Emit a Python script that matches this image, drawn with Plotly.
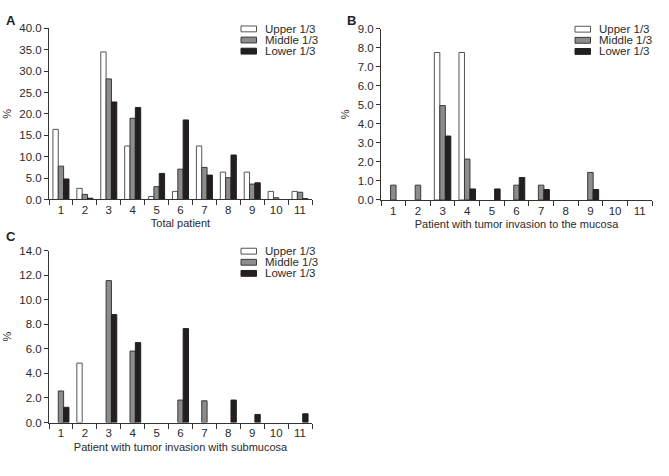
import plotly.graph_objects as go

categories = [str(i) for i in range(1, 12)]
series_names = ["Upper 1/3", "Middle 1/3", "Lower 1/3"]

# Panel A: Total patient (None = no bar)
a_upper = [16.4, 2.6, 34.5, 12.5, 0.7, 1.9, 12.5, 6.4, 6.4, 1.9, 1.9]
a_middle = [7.8, 1.2, 28.2, 19.0, 3.0, 7.1, 7.5, 5.1, 3.6, 0.4, 1.7]
a_lower = [4.8, 0.3, 22.8, 21.5, 6.1, 18.6, 5.7, 10.4, 3.9, None, 0.2]

# Panel B: tumor invasion to the mucosa
b_upper = [None, None, 7.75, 7.75, None, None, None, None, None, None, None]
b_middle = [0.78, 0.78, 4.96, 2.15, None, 0.78, 0.78, None, 1.45, None, None]
b_lower = [None, None, 3.36, 0.58, 0.58, 1.18, 0.55, None, 0.55, None, None]

# Panel C: tumor invasion with submucosa
c_upper = [None, 4.84, None, None, None, None, None, None, None, None, None]
c_middle = [2.57, None, 11.56, 5.82, None, 1.83, 1.77, None, None, None, None]
c_lower = [1.24, None, 8.79, 6.51, None, 7.65, None, 1.83, 0.66, None, 0.71]

y_a_ticks = [0, 5, 10, 15, 20, 25, 30, 35, 40]
y_b_ticks = [0, 1, 2, 3, 4, 5, 6, 7, 8, 9]
y_c_ticks = [0, 2, 4, 6, 8, 10, 12, 14]

titles = ["Total patient", "Patient with tumor invasion to the mucosa",
          "Patient with tumor invasion with submucosa"]

fills = ["#ffffff", "#8c8c8c", "#231f20"]
lines = ["#555555", "#3a3a3a", "#231f20"]

W, H = 669, 476
FONT = "Arial, Liberation Sans, sans-serif"
TXT = "#2a2a2a"

fig = go.Figure()

panels = [
    (a_upper, a_middle, a_lower, "x", "y"),
    (b_upper, b_middle, b_lower, "x2", "y2"),
    (c_upper, c_middle, c_lower, "x3", "y3"),
]
for (u, m, l, xa, ya) in panels:
    for name, vals, fc, lc in zip(series_names, (u, m, l), fills, lines):
        fig.add_trace(go.Bar(
            x=categories, y=vals, name=name, xaxis=xa, yaxis=ya,
            showlegend=False,
            marker=dict(color=fc, line=dict(color=lc, width=1)),
            hoverinfo="skip",
        ))

def px_x(p):
    return p / W

def px_y(p):
    return 1 - p / H

# domains (pixels)
dom = {
    "A": dict(x=(49, 312), y=(198.5, 23)),
    "B": dict(x=(381, 652), y=(199, 23.3)),
    "C": dict(x=(49, 312), y=(427.3, 251)),
}

def xaxis_cfg(d, anchor, title):
    return dict(
        domain=[px_x(d["x"][0]), px_x(d["x"][1])], anchor=anchor,
        type="category", tickson="boundaries", ticks="outside", ticklen=5,
        tickcolor="#333", showline=True, linecolor="#333", linewidth=1,
        showgrid=False, zeroline=False,
        tickfont=dict(family=FONT, size=11.5, color=TXT),
        title=dict(text=title, font=dict(family=FONT, size=11, color=TXT), standoff=4),
        range=[-0.5, 10.5],
    )

def yaxis_cfg(d, anchor, rng, tv):
    return dict(
        domain=[px_y(d["y"][0]), px_y(d["y"][1])], anchor=anchor,
        range=rng, tickvals=tv, ticktext=[f"{v:.1f}" for v in tv],
        ticks="outside", ticklen=4, tickcolor="#333",
        showline=True, linecolor="#333", linewidth=1,
        showgrid=False, zeroline=False,
        tickfont=dict(family=FONT, size=11.5, color=TXT),
        title=dict(text="%", font=dict(family=FONT, size=11, color=TXT), standoff=5),
    )

fig.update_layout(
    width=W, height=H, margin=dict(l=0, r=0, t=0, b=0),
    paper_bgcolor="white", plot_bgcolor="white",
    barmode="group", bargap=0.33, bargroupgap=0,
    font=dict(family=FONT, color=TXT),
    xaxis=xaxis_cfg(dom["A"], "y", titles[0]),
    yaxis=yaxis_cfg(dom["A"], "x", [0, 40], y_a_ticks),
    xaxis2=xaxis_cfg(dom["B"], "y2", titles[1]),
    yaxis2=yaxis_cfg(dom["B"], "x2", [0, 9], y_b_ticks),
    xaxis3=xaxis_cfg(dom["C"], "y3", titles[2]),
    yaxis3=yaxis_cfg(dom["C"], "x3", [0, 14], y_c_ticks),
    showlegend=False,
)

# legend keys (swatch + label) for each panel
legend_pos = [(241, 23.5), (575, 23.8), (241, 251.5)]
row_step = 11.4
for lx, ly in legend_pos:
    for i, (name, fc, lc) in enumerate(zip(series_names, fills, lines)):
        cy = ly + i * row_step
        fig.add_shape(type="rect", xref="paper", yref="paper",
                      x0=px_x(lx), x1=px_x(lx + 15.5),
                      y0=px_y(cy + 3), y1=px_y(cy - 3),
                      fillcolor=fc, line=dict(color=lc, width=1))
        fig.add_annotation(text=name, x=px_x(lx + 22), y=px_y(cy),
                           xref="paper", yref="paper", showarrow=False,
                           xanchor="left", yanchor="middle",
                           font=dict(family=FONT, size=11.5, color=TXT))

for letter, xp, yp in [("A", 11, 15), ("B", 351, 15), ("C", 11, 236)]:
    fig.add_annotation(text=f"<b>{letter}</b>", x=px_x(xp), y=px_y(yp),
                       xref="paper", yref="paper", showarrow=False,
                       xanchor="center", yanchor="middle",
                       font=dict(family=FONT, size=13, color="#222"))

fig.write_html("out.html", config={"displayModeBar": False},
               post_script="document.body.style.margin='0';")
